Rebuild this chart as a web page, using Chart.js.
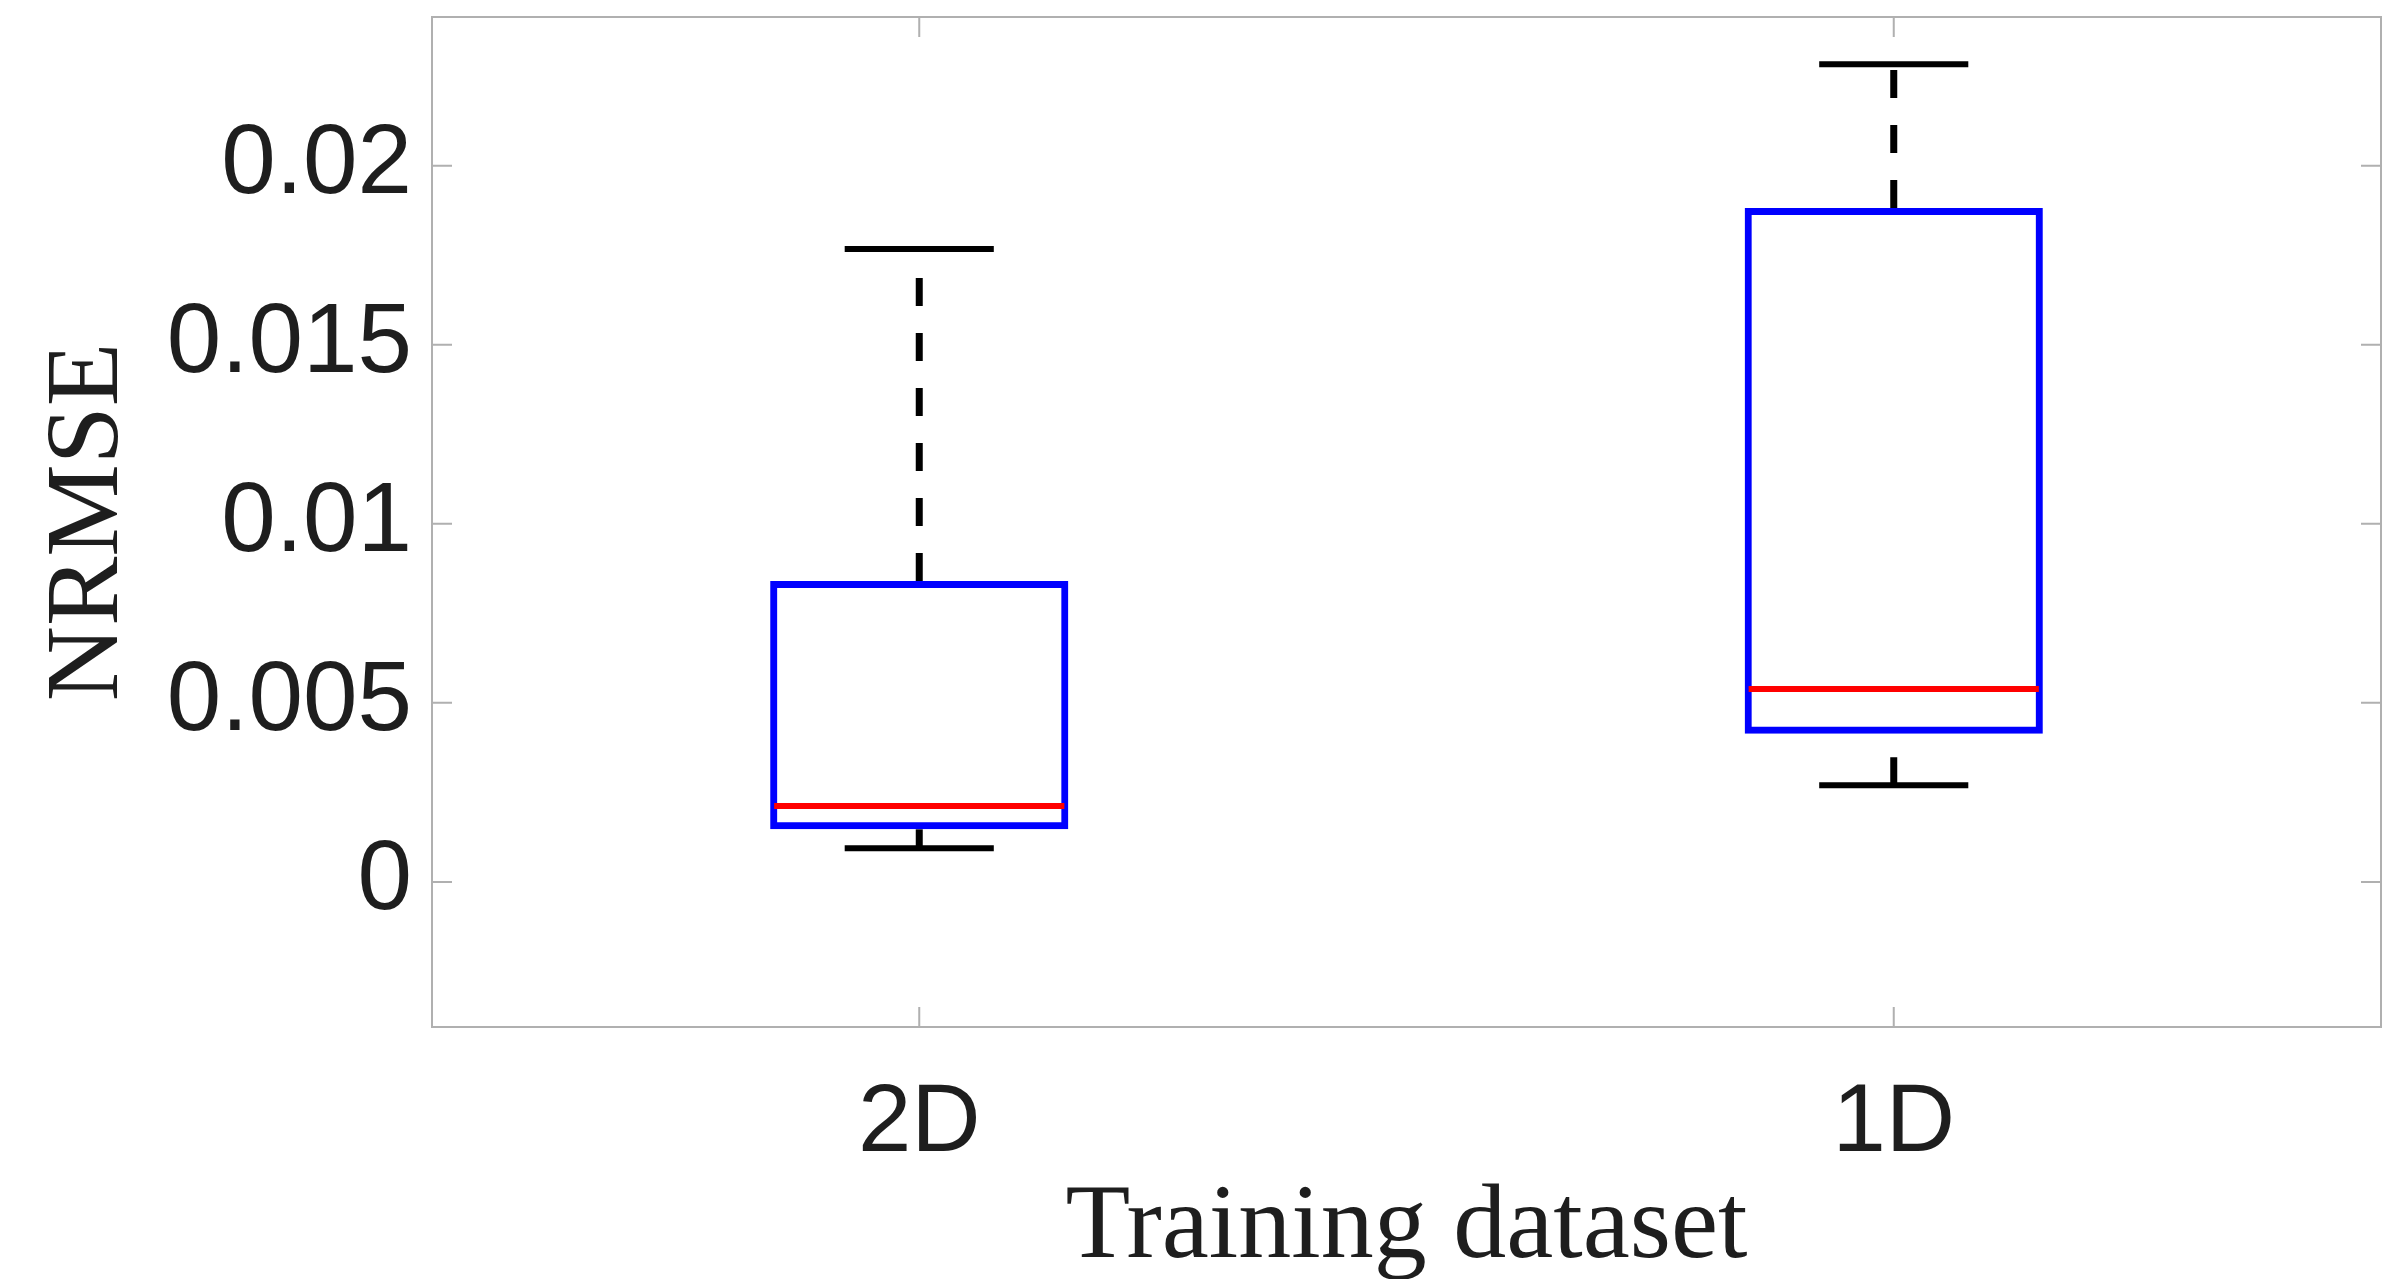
<!DOCTYPE html>
<html>
<head>
<meta charset="utf-8">
<script src="https://cdn.jsdelivr.net/npm/chart.js@4.4.1/dist/chart.umd.min.js"></script>
<style>
  html, body { margin: 0; padding: 0; background: #fff; }
  canvas { display: block; }
</style>
</head>
<body>
<canvas id="box" width="2398" height="1279"></canvas>
<script>
// box statistics per training set (NRMSE)
const datasets = ['2D', '1D'];
const whiskerLow = [0.00094, 0.0027];
const quartile1 = [0.00147, 0.00414];
const medians = [0.00212, 0.00539];
const quartile3 = [0.0084, 0.01882];
const whiskerHigh = [0.01767, 0.02283];

const yTicks = [0, 0.005, 0.01, 0.015, 0.02];
const yTickLabels = ['0', '0.005', '0.01', '0.015', '0.02'];
const yMin = -0.00405, yMax = 0.02415;

const sansFont = '"Liberation Sans", Arial, Helvetica, sans-serif';
const serifFont = '"Liberation Serif", "Times New Roman", serif';
const frameColor = '#b0b0b0';
const textColor = '#1e1e1e';

// whiskers go under the boxes, medians on top of them
const boxParts = {
  id: 'boxParts',
  beforeDatasetsDraw(chart) {
    const ctx = chart.ctx, y = chart.scales.y;
    const bars = chart.getDatasetMeta(0).data;
    ctx.save();
    ctx.strokeStyle = '#000';
    bars.forEach((bar, i) => {
      const x = bar.x, half = bar.width / 4;
      // dashed stems run upwards from their lower end
      ctx.lineWidth = 7;
      ctx.setLineDash([28, 27]);
      ctx.beginPath();
      ctx.moveTo(x, y.getPixelForValue(quartile3[i]));
      ctx.lineTo(x, y.getPixelForValue(whiskerHigh[i]));
      ctx.stroke();
      ctx.beginPath();
      ctx.moveTo(x, y.getPixelForValue(whiskerLow[i]));
      ctx.lineTo(x, y.getPixelForValue(quartile1[i]));
      ctx.stroke();
      // caps
      ctx.setLineDash([]);
      ctx.lineWidth = 6;
      ctx.beginPath();
      [whiskerHigh[i], whiskerLow[i]].forEach(v => {
        const py = y.getPixelForValue(v);
        ctx.moveTo(x - half, py);
        ctx.lineTo(x + half, py);
      });
      ctx.stroke();
    });
    ctx.restore();
  },
  afterDatasetsDraw(chart) {
    const ctx = chart.ctx, y = chart.scales.y;
    const bars = chart.getDatasetMeta(0).data;
    ctx.save();
    ctx.strokeStyle = '#ff0000';
    ctx.lineWidth = 6;
    bars.forEach((bar, i) => {
      const py = y.getPixelForValue(medians[i]);
      ctx.beginPath();
      ctx.moveTo(bar.x - bar.width / 2 + 4, py);
      ctx.lineTo(bar.x + bar.width / 2 - 4, py);
      ctx.stroke();
    });
    ctx.restore();
  }
};

// axes box with inward tick marks on all four sides
const frame = {
  id: 'frame',
  afterDraw(chart) {
    const {ctx, chartArea: a, scales: {x, y}} = chart;
    ctx.save();
    ctx.strokeStyle = frameColor;
    ctx.lineWidth = 2;
    ctx.strokeRect(a.left, a.top, a.right - a.left, a.bottom - a.top);
    ctx.beginPath();
    yTicks.forEach(v => {
      const py = y.getPixelForValue(v);
      ctx.moveTo(a.left, py);
      ctx.lineTo(a.left + 20, py);
      ctx.moveTo(a.right, py);
      ctx.lineTo(a.right - 20, py);
    });
    datasets.forEach((_, i) => {
      const px = x.getPixelForValue(i);
      ctx.moveTo(px, a.bottom);
      ctx.lineTo(px, a.bottom - 20);
      ctx.moveTo(px, a.top);
      ctx.lineTo(px, a.top + 20);
    });
    ctx.stroke();
    ctx.restore();
  }
};

new Chart(document.getElementById('box'), {
  type: 'bar',
  data: {
    labels: datasets,
    datasets: [{
      data: quartile1.map((q, i) => [q, quartile3[i]]),
      backgroundColor: 'rgba(0,0,0,0)',
      borderColor: '#0000ff',
      borderWidth: 7,
      borderSkipped: false,
      barPercentage: 0.306,
      categoryPercentage: 1
    }]
  },
  options: {
    responsive: false,
    animation: false,
    layout: { padding: { top: 17, right: 17, left: 0, bottom: 0 } },
    plugins: { legend: { display: false }, tooltip: { enabled: false } },
    scales: {
      x: {
        offset: true,
        grid: { display: false, drawTicks: false },
        border: { display: false },
        ticks: {
          color: textColor,
          font: { family: sansFont, size: 96 },
          padding: 40,
          maxRotation: 0
        },
        title: {
          display: true,
          text: 'Training dataset',
          color: textColor,
          font: { family: serifFont, size: 106, lineHeight: 1 },
          padding: { top: 0, bottom: -3 }
        },
        afterFit(s) {
          s.height = 252;
          s.paddingLeft = 0;
          s.paddingRight = 0;
        }
      },
      y: {
        min: yMin,
        max: yMax,
        grid: { display: false, drawTicks: false },
        border: { display: false },
        afterBuildTicks(s) { s.ticks = yTicks.map(v => ({ value: v })); },
        ticks: {
          color: textColor,
          font: { family: sansFont, size: 98 },
          padding: 20,
          callback: (v) => yTickLabels[yTicks.indexOf(v)]
        },
        title: {
          display: true,
          text: 'NRMSE',
          color: textColor,
          font: { family: serifFont, size: 104, lineHeight: 1 },
          padding: { top: 38, bottom: 0 }
        },
        afterFit(s) {
          s.width = 432;
          s.paddingTop = 0;
          s.paddingBottom = 0;
        }
      }
    }
  },
  plugins: [boxParts, frame]
});
</script>
</body>
</html>
